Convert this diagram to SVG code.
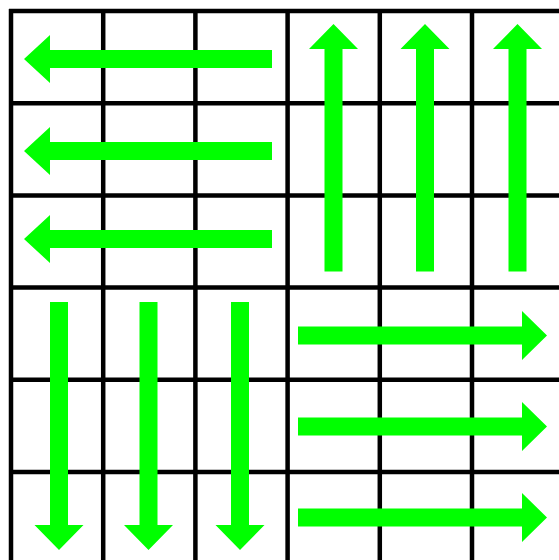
<svg xmlns="http://www.w3.org/2000/svg" width="559" height="560" viewBox="0 0 559 560">
<style>
.grid line{stroke:#000;stroke-width:4.5}
.arr{fill:#00ff00}
</style>
<rect width="559" height="560" fill="#fff"/>
<g id="grid" class="grid">
<line x1="11" y1="9" x2="11" y2="560"/>
<line x1="103.2" y1="9" x2="103.2" y2="560"/>
<line x1="195.4" y1="9" x2="195.4" y2="560"/>
<line x1="287.6" y1="9" x2="287.6" y2="560"/>
<line x1="379.8" y1="9" x2="379.8" y2="560"/>
<line x1="472" y1="9" x2="472" y2="560"/>
<line x1="9" y1="11" x2="559" y2="11"/>
<line x1="9" y1="103.2" x2="559" y2="103.2"/>
<line x1="9" y1="195.4" x2="559" y2="195.4"/>
<line x1="9" y1="287.6" x2="559" y2="287.6"/>
<line x1="9" y1="379.8" x2="559" y2="379.8"/>
<line x1="9" y1="472" x2="559" y2="472"/>
</g>
<g id="connectors">
<g id="left-arrows" class="arr">
<path d="M272,50 L50,50 L50,35 L24,59 L50,83 L50,68 L272,68 Z"/>
<path d="M272,142 L50,142 L50,127 L24,151 L50,175 L50,160 L272,160 Z"/>
<path d="M272,230 L50,230 L50,215 L24,239 L50,263 L50,248 L272,248 Z"/>
</g>
<g id="up-arrows" class="arr">
<path d="M324.5,271.5 L324.5,49 L309,49 L333.5,24 L358,49 L342.5,49 L342.5,271.5 Z"/>
<path d="M416,271.5 L416,49 L400.5,49 L425,24 L449.5,49 L434,49 L434,271.5 Z"/>
<path d="M508.5,271.5 L508.5,49 L493,49 L517.5,24 L542,49 L526.5,49 L526.5,271.5 Z"/>
</g>
<g id="down-arrows" class="arr">
<path d="M50,302 L50,525 L34.5,525 L59,550 L83.5,525 L68,525 L68,302 Z"/>
<path d="M139.5,302 L139.5,525 L124,525 L148.5,550 L173,525 L157.5,525 L157.5,302 Z"/>
<path d="M231,302 L231,525 L215.5,525 L240,550 L264.5,525 L249,525 L249,302 Z"/>
</g>
<g id="right-arrows" class="arr">
<path d="M298,326.5 L522,326.5 L522,311 L547,335.5 L522,360 L522,344.5 L298,344.5 Z"/>
<path d="M298,417.5 L522,417.5 L522,402 L547,426.5 L522,451 L522,435.5 L298,435.5 Z"/>
<path d="M298,508.5 L522,508.5 L522,493 L547,517.5 L522,542 L522,526.5 L298,526.5 Z"/>
</g>
</g>
</svg>
